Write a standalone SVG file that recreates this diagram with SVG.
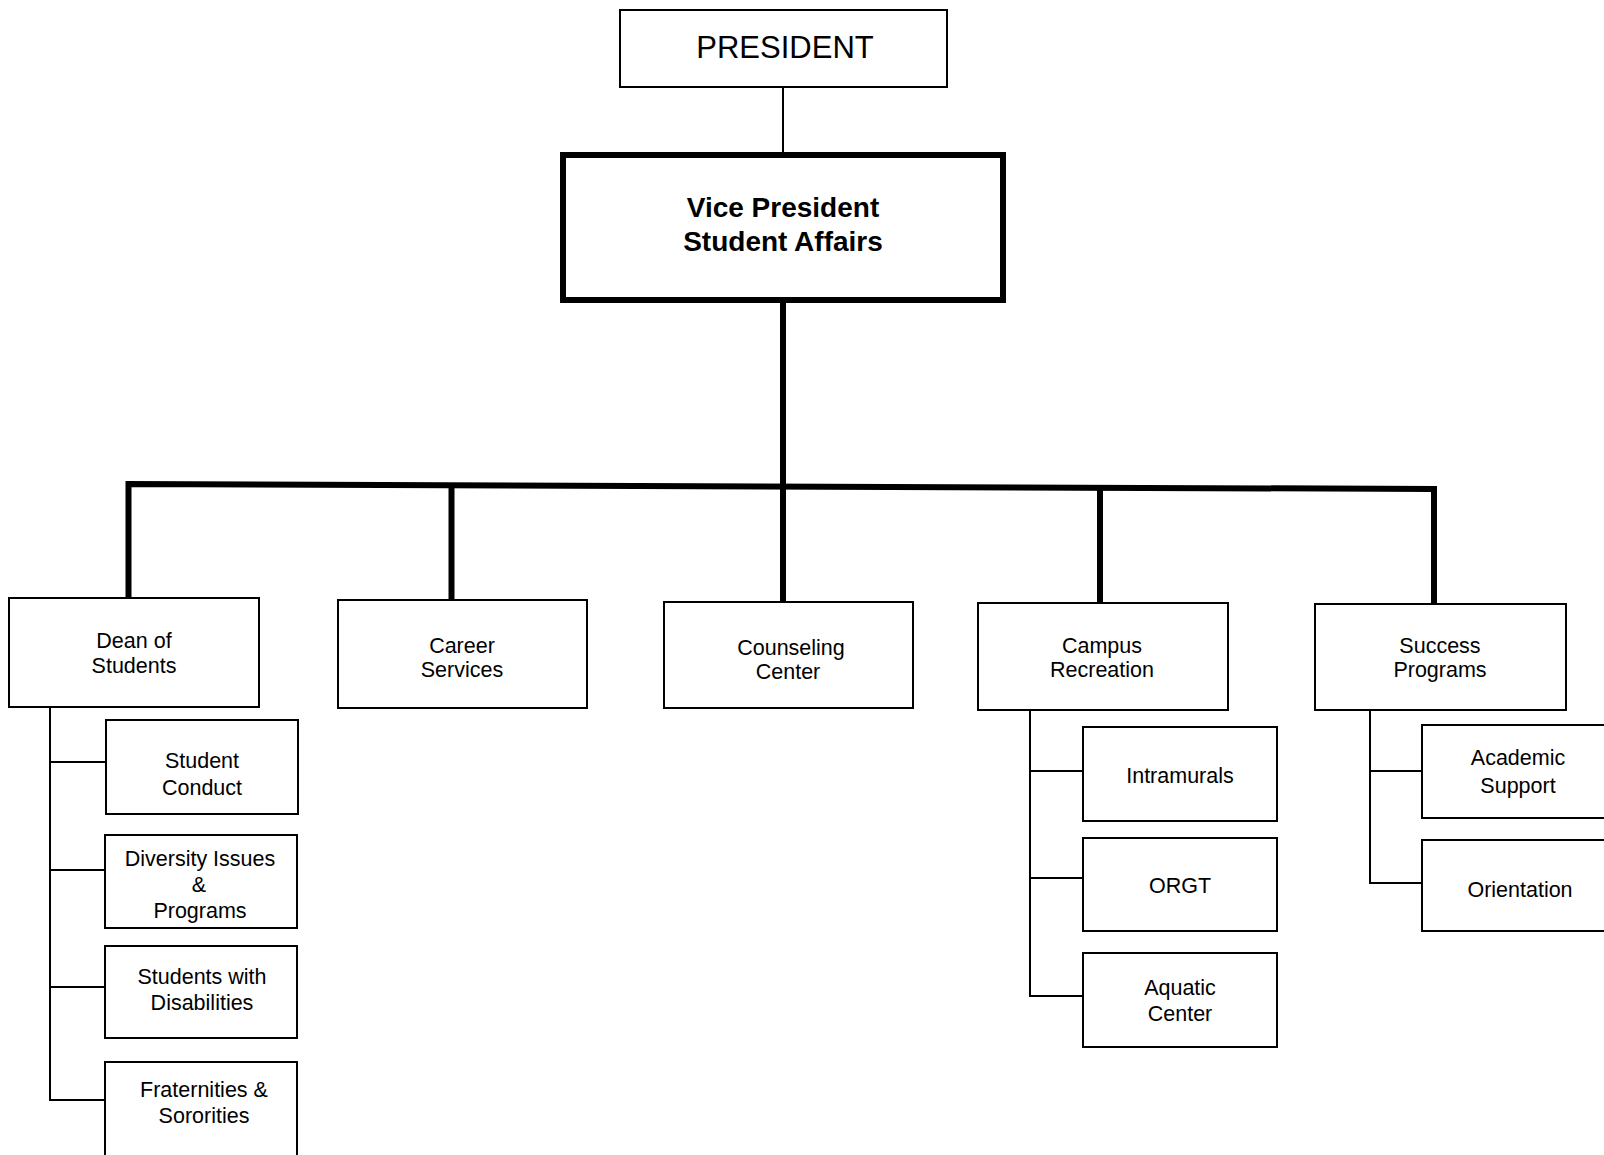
<svg xmlns="http://www.w3.org/2000/svg" width="1604" height="1155" viewBox="0 0 1604 1155">
<style>
.box{fill:#fff;stroke:#000;stroke-width:2}
.thick{fill:#fff;stroke:#000;stroke-width:6}
.t{font-family:"Liberation Sans",Arial,sans-serif;font-size:21.5px;fill:#000;text-anchor:middle}
.big{font-size:31px}
.bold{font-weight:bold;font-size:28px}
.c1{fill:none;stroke:#000;stroke-width:2}
.c2{fill:none;stroke:#000;stroke-width:6}
</style>
<rect width="1604" height="1155" fill="#fff"/>
<g id="connectors">
<line class="c1" x1="783" y1="87" x2="783" y2="153"/>
<line class="c2" x1="783" y1="300" x2="783" y2="602"/>
<polyline class="c2" points="128.5,598 128.5,484 1434,489 1434,604"/>
<line class="c2" x1="451.5" y1="485" x2="451.5" y2="600"/>
<line class="c2" x1="1100" y1="488" x2="1100" y2="603"/>
<polyline class="c1" points="50,707 50,1100 105,1100"/>
<line class="c1" x1="50" y1="762" x2="106" y2="762"/>
<line class="c1" x1="50" y1="870" x2="105" y2="870"/>
<line class="c1" x1="50" y1="987" x2="105" y2="987"/>
<polyline class="c1" points="1030,710 1030,996 1083,996"/>
<line class="c1" x1="1030" y1="771" x2="1083" y2="771"/>
<line class="c1" x1="1030" y1="878" x2="1083" y2="878"/>
<polyline class="c1" points="1370,710 1370,883 1422,883"/>
<line class="c1" x1="1370" y1="771" x2="1422" y2="771"/>
</g>
<g id="president"><rect class="box" x="620" y="10" width="327" height="77"/><text class="t big" x="785" y="58">PRESIDENT</text></g>
<g id="vp"><rect class="thick" x="563" y="155" width="440" height="145"/><text class="t bold" x="783" y="217">Vice President</text><text class="t bold" x="783" y="251">Student Affairs</text></g>
<g id="dean"><rect class="box" x="9" y="598" width="250" height="109"/><text class="t" x="134" y="648">Dean of</text><text class="t" x="134" y="673">Students</text></g>
<g id="career"><rect class="box" x="338" y="600" width="249" height="108"/><text class="t" x="462" y="653">Career</text><text class="t" x="462" y="677">Services</text></g>
<g id="counseling"><rect class="box" x="664" y="602" width="249" height="106"/><text class="t" x="791" y="655">Counseling</text><text class="t" x="788" y="679">Center</text></g>
<g id="campus"><rect class="box" x="978" y="603" width="250" height="107"/><text class="t" x="1102" y="653">Campus</text><text class="t" x="1102" y="677">Recreation</text></g>
<g id="success"><rect class="box" x="1315" y="604" width="251" height="106"/><text class="t" x="1440" y="653">Success</text><text class="t" x="1440" y="677">Programs</text></g>
<g id="conduct"><rect class="box" x="106" y="720" width="192" height="94"/><text class="t" x="202" y="768">Student</text><text class="t" x="202" y="795">Conduct</text></g>
<g id="diversity"><rect class="box" x="105" y="835" width="192" height="93"/><text class="t" x="200" y="866">Diversity Issues</text><text class="t" x="199" y="892">&amp;</text><text class="t" x="200" y="918">Programs</text></g>
<g id="disabilities"><rect class="box" x="105" y="946" width="192" height="92"/><text class="t" x="202" y="984">Students with</text><text class="t" x="202" y="1010">Disabilities</text></g>
<g id="fraternities"><rect class="box" x="105" y="1062" width="192" height="110"/><text class="t" x="204" y="1097">Fraternities &amp;</text><text class="t" x="204" y="1123">Sororities</text></g>
<g id="intramurals"><rect class="box" x="1083" y="727" width="194" height="94"/><text class="t" x="1180" y="783">Intramurals</text></g>
<g id="orgt"><rect class="box" x="1083" y="838" width="194" height="93"/><text class="t" x="1180" y="893">ORGT</text></g>
<g id="aquatic"><rect class="box" x="1083" y="953" width="194" height="94"/><text class="t" x="1180" y="995">Aquatic</text><text class="t" x="1180" y="1021">Center</text></g>
<g id="academic"><rect class="box" x="1422" y="725" width="200" height="93"/><text class="t" x="1518" y="765">Academic</text><text class="t" x="1518" y="793">Support</text></g>
<g id="orientation"><rect class="box" x="1422" y="840" width="200" height="91"/><text class="t" x="1520" y="897">Orientation</text></g>
</svg>
